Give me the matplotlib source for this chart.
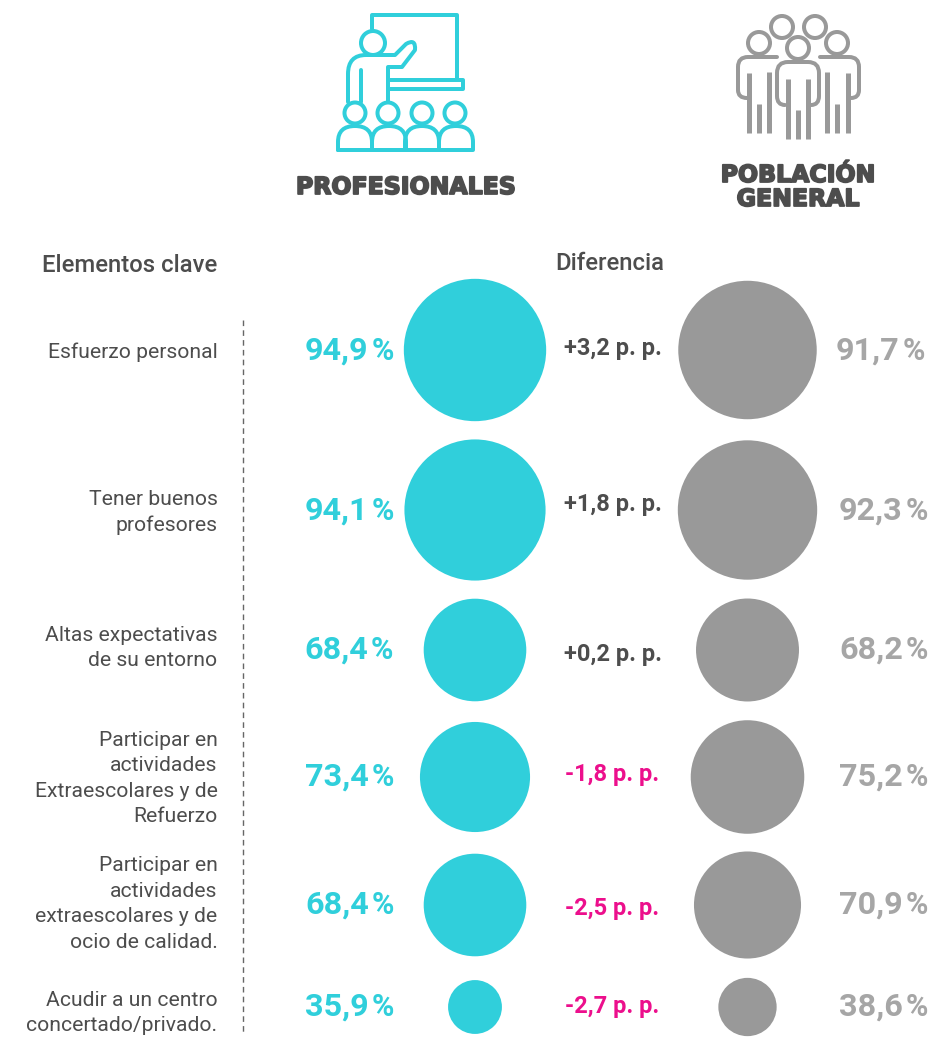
import matplotlib

matplotlib.use("Agg")

import matplotlib.patheffects as pe
import matplotlib.pyplot as plt
from matplotlib.patches import Circle, PathPatch
from matplotlib.path import Path

# chart values
labels = [
    "Esfuerzo personal",
    "Tener buenos\nprofesores",
    "Altas expectativas\nde su entorno",
    "Participar en\nactividades\nExtraescolares y de\nRefuerzo",
    "Participar en\nactividades\nextraescolares y de\nocio de calidad.",
    "Acudir a un centro\nconcertado/privado.",
]
profesionales = [94.9, 94.1, 68.4, 73.4, 68.4, 35.9]
poblacion = [91.7, 92.3, 68.2, 75.2, 70.9, 38.6]
diferencia = ["+3,2", "+1,8", "+0,2", "-1,8", "-2,5", "-2,7"]

# layout in reference pixels, kept apart from the values
W, H = 931, 1038
row_y = [350, 510, 650, 777, 905, 1007]
label_y = [352.5, 512.5, 648, 778.5, 904, 1013]
value_y = [351, 511, 650, 777, 905, 1007]
diff_y = [348, 504, 654, 774, 908, 1006]
grey_text_x = [836, 839, 839, 839, 839, 839]
teal_text_x = [305, 305, 304, 305, 305, 305]

TEAL = "#30cfdb"
GREY = "#999999"
GREY_TEXT = "#a6a6a6"
DARK = "#4d4d4d"
PINK = "#ec0f8c"
PX = 0.72  # one reference pixel in points at dpi 100

plt.rcParams["font.family"] = ["Roboto", "DejaVu Sans"]

fig = plt.figure(figsize=(W / 100, H / 100), dpi=100, facecolor="white")
ax = fig.add_axes([0, 0, 1, 1])
ax.set_xlim(0, W)
ax.set_ylim(H, 0)
ax.axis("off")


def outline(points, color, lw=4.0, closed=False):
    # points is a list of (x, y), with "C" entries making a smooth corner
    verts, codes = [], []
    for p in points:
        if p[0] == "C":
            verts += [p[1], p[2]]
            codes += [Path.CURVE3, Path.CURVE3]
        else:
            verts.append(p)
            codes.append(Path.LINETO if verts[:-1] else Path.MOVETO)
    if closed:
        verts.append(verts[0])
        codes.append(Path.CLOSEPOLY)
    ax.add_patch(PathPatch(Path(verts, codes), fc="none", ec=color, lw=lw * PX,
                           capstyle="round", joinstyle="round"))


def ring(x, y, r, color, lw=4.0):
    ax.add_patch(Circle((x, y), r, fc="none", ec=color, lw=lw * PX))


def pct(x, y, value, color):
    # number and % are set apart, the % is a bit smaller in the reference
    ax.text(x, y, f"{value:.1f}".replace(".", ","), ha="left", va="center", color=color,
            fontsize=23.3, fontweight="bold")
    ax.text(x + 67, y, "%", ha="left", va="center", color=color, fontsize=22, fontweight="bold")


# teacher icon
outline([(372, 29), (372, 15), (457, 15), (457, 80)], TEAL)
outline([(388, 80), (463, 80), (463, 89), (388, 89)], TEAL)
ring(373, 43, 12, TEAL)
outline([(348, 102), (348, 74), ("C", (348, 55), (366, 55)), (395, 55), (406, 44),
         ("C", (416, 38), (415, 50)), (402, 67), (388, 67), (388, 102)], TEAL)
outline([(361, 70), (361, 102)], TEAL)
for hx in [355, 388, 422, 455]:
    ring(hx, 113, 10.5, TEAL)
for x0 in [338, 372, 405, 439]:
    x1 = x0 + 34
    mid = (x0 + x1) / 2
    outline([(x0, 150), (x0, 142), ("C", (x0, 126), (mid, 126)),
             ("C", (x1, 126), (x1, 142)), (x1, 150), (x0, 150)], TEAL)

# people icon
for hx, hy in [(782, 27), (815, 27), (759, 43), (837, 43), (798, 48)]:
    ring(hx, hy, 11, GREY)
outline([(777, 57), (748, 57), ("C", (738, 57), (738, 67)), (738, 90),
         ("C", (738, 98), (747, 98))], GREY)
outline([(820, 57), (849, 57), ("C", (859, 57), (859, 67)), (859, 90),
         ("C", (859, 98), (851, 98))], GREY)
outline([(785, 105), ("C", (777, 105), (777, 96)), (777, 73), ("C", (777, 62), (788, 62)),
         (808, 62), ("C", (819, 62), (819, 73)), (819, 96), ("C", (819, 105), (811, 105))], GREY)
for bx, y0, y1 in [(749, 73, 133), (759, 104, 133), (769, 72, 133),
                   (827, 72, 133), (837, 104, 133), (848, 73, 133),
                   (788, 79, 139), (798, 110, 139), (808, 79, 139)]:
    ax.plot([bx, bx], [y0, y1], color=GREY, lw=5 * PX, solid_capstyle="butt")

# group titles, thickened with a stroke to get the heavy display look
heavy = [pe.withStroke(linewidth=1.3, foreground=DARK)]
for txt, x, y in [("PROFESIONALES", 406, 187), ("POBLACIÓN", 798, 175), ("GENERAL", 798, 199)]:
    ax.text(x, y, txt, ha="center", va="center", color=DARK, fontsize=17, fontweight="bold",
            family="DejaVu Sans", path_effects=heavy)

ax.text(217, 266, "Elementos clave", ha="right", va="center", color=DARK, fontsize=17.2,
        fontweight="medium")
ax.text(609.5, 264, "Diferencia", ha="center", va="center", color=DARK, fontsize=17.2,
        fontweight="medium")

ax.plot([243, 243], [320, 1035], color="#666666", lw=1.4 * PX, ls=(0, (4, 3)))

for i, label in enumerate(labels):
    ax.text(217.5, label_y[i], label, ha="right", va="center", color=DARK, fontsize=15.2,
            fontweight="normal", linespacing=1.44)
    ax.add_patch(Circle((475, row_y[i]), profesionales[i] * 1.5 / 2, fc=TEAL, ec="none"))
    ax.add_patch(Circle((747.5, row_y[i]), poblacion[i] * 1.51 / 2, fc=GREY, ec="none"))
    pct(teal_text_x[i], value_y[i], profesionales[i], TEAL)
    pct(grey_text_x[i], value_y[i], poblacion[i], GREY_TEXT)
    ax.text(612.5, diff_y[i], diferencia[i] + " p. p.", ha="center", va="center",
            color=PINK if diferencia[i].startswith("-") else DARK, fontsize=17, fontweight="bold")

fig.savefig("out.png", dpi=100, facecolor="white")
plt.close(fig)
